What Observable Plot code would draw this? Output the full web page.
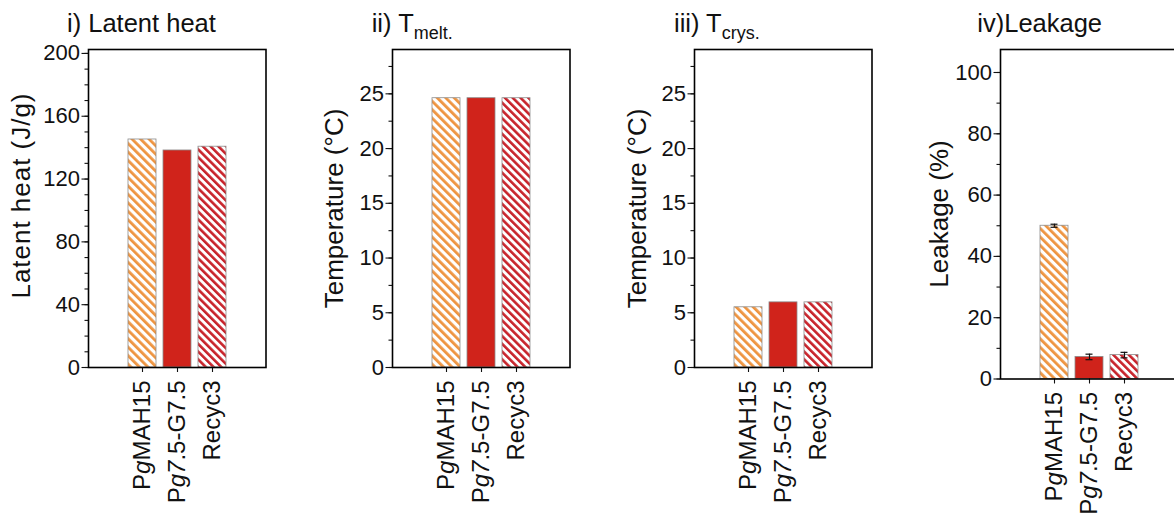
<!DOCTYPE html>
<html><head><meta charset="utf-8">
<script src="https://cdn.jsdelivr.net/npm/d3@7"></script>
<script src="https://cdn.jsdelivr.net/npm/@observablehq/plot@0.6"></script>
<style>
html,body{margin:0;padding:0;background:#fff;overflow:hidden;width:1174px;height:525px}
#wrap{position:relative;width:1174px;height:525px;overflow:hidden;font-family:"Liberation Sans",Arial,sans-serif}
#wrap svg{position:absolute;top:0}
</style></head><body>
<svg width="0" height="0" style="position:absolute">
  <defs>
    <pattern id="hatchOrange" patternUnits="userSpaceOnUse" width="6" height="6" patternTransform="rotate(-45)">
      <rect width="6" height="6" fill="#ffffff"/>
      <rect x="0" y="0" width="2.8" height="6" fill="#ee9440"/>
    </pattern>
    <pattern id="hatchRed" patternUnits="userSpaceOnUse" width="5.5" height="5.5" patternTransform="rotate(-45)">
      <rect width="5.5" height="5.5" fill="#ffffff"/>
      <rect x="0" y="0" width="2.6" height="5.5" fill="#c8232b"/>
    </pattern>
  </defs>
</svg>
<div id="wrap"></div>
<script>
// ---- data ----
const samples = ["PgMAH15", "Pg7.5-G7.5", "Recyc3"];
const italicParts = ["g", "g7", null];
const latentHeat = [145.2, 138.2, 140.6];
const tMelt = [24.6, 24.6, 24.6];
const tCrys = [5.5, 5.95, 5.95];
const leakage = [50.0, 7.2, 7.8];
const leakageErr = [0.5, 0.9, 0.9];
const titles = ["i) Latent heat", "ii) T", "iii) T", "iv)Leakage"];
const titleSubs = [null, "melt.", "crys.", null];
const yLabels = ["Latent heat (J/g)", "Temperature (°C)", "Temperature (°C)", "Leakage (%)"];
const majorTicks = [[0, 40, 80, 120, 160, 200], [0, 5, 10, 15, 20, 25], [0, 5, 10, 15, 20, 25], [0, 20, 40, 60, 80, 100]];
const minorTicks = [d3.range(0, 201, 10), d3.range(0, 28, 2.5), d3.range(0, 28, 2.5), d3.range(0, 101, 10)];
const yDomains = [[0, 202.5], [0, 29.05], [0, 29.05], [0, 107.5]];
const fills = ["url(#hatchOrange)", "#d0231b", "url(#hatchRed)"];

// ---- layout ----
const layout = [
  {frameLeft: 88, bottom: 367, titleX: 67, labelX: 30, labelY: 196, labelLen: 205},
  {frameLeft: 391.7, bottom: 367, titleX: 371.7, labelX: 343, labelY: 208.5, labelLen: null},
  {frameLeft: 694.3, bottom: 367, titleX: 674, labelX: 645.6, labelY: 208.5, labelLen: null},
  {frameLeft: 1000, bottom: 378.5, titleX: 977.3, labelX: 948, labelY: 214, labelLen: null}
];
const frameW = 177.5, mL = 80, mR = 12, H = 525, mTop = 49;
const series = [latentHeat, tMelt, tCrys, leakage];
const errors = [null, null, null, leakageErr];
const wrap = document.getElementById("wrap");
const ns = "http://www.w3.org/2000/svg";
const FONT = '"Liberation Sans", Arial, sans-serif';

series.forEach((vals, i) => {
  const p = layout[i];
  const rows = samples.map((s, j) => ({sample: s, value: vals[j], fill: fills[j], err: errors[i] ? errors[i][j] : 0}));
  const marks = [
    Plot.barY(rows, {x: "sample", y: "value", fill: "fill", stroke: "#8c8c8c", strokeWidth: 0.8}),
    Plot.axisY({ticks: minorTicks[i], tickSize: 3.5, tickFormat: () => "", label: null, strokeWidth: 1.1}),
    Plot.axisY({ticks: majorTicks[i], tickSize: 6.5, tickPadding: 2, fontSize: 22, label: null, strokeWidth: 1.1}),
    Plot.axisX({tickRotate: -90, tickSize: 5, tickPadding: 8, fontSize: 24, label: null, strokeWidth: 1.1}),
    Plot.frame({stroke: "#000", strokeWidth: 1.6})
  ];
  if (errors[i]) {
    marks.splice(1, 0,
      Plot.ruleX(rows, {x: "sample", y1: d => d.value - d.err, y2: d => d.value + d.err, stroke: "#111", strokeWidth: 1.2}),
      Plot.tickY(rows, {x: "sample", y: d => d.value - d.err, stroke: "#111", strokeWidth: 1.2, insetLeft: 10.5, insetRight: 10.5}),
      Plot.tickY(rows, {x: "sample", y: d => d.value + d.err, stroke: "#111", strokeWidth: 1.2, insetLeft: 10.5, insetRight: 10.5})
    );
  }
  const svg = Plot.plot({
    width: mL + frameW + mR,
    height: H,
    marginLeft: mL, marginRight: mR, marginTop: mTop, marginBottom: H - p.bottom,
    x: {type: "band", domain: samples, paddingInner: 0.19, paddingOuter: 1.08, axis: null},
    y: {domain: yDomains[i], axis: null},
    color: {type: "identity"},
    style: {fontFamily: FONT, background: "transparent", overflow: "visible", color: "#111"},
    marks
  });
  svg.style.left = (p.frameLeft - mL) + "px";
  // italic parts of sample names
  svg.querySelectorAll('g[aria-label="x-axis tick label"] text').forEach(t => {
    const s = t.textContent;
    const j = samples.indexOf(s);
    const it = j >= 0 ? italicParts[j] : null;
    if (!it) return;
    const k = s.indexOf(it);
    t.textContent = "";
    [[s.slice(0, k), false], [it, true], [s.slice(k + it.length), false]].forEach(([txt, ital]) => {
      if (!txt) return;
      const ts = document.createElementNS(ns, "tspan");
      ts.textContent = txt;
      if (ital) ts.setAttribute("font-style", "italic");
      t.appendChild(ts);
    });
  });
  wrap.appendChild(svg);
});

// titles and y-axis labels
const ov = d3.create("svg").attr("width", 1174).attr("height", H).style("left", "0px")
  .attr("font-family", FONT).attr("fill", "#111");
layout.forEach((p, i) => {
  const t = ov.append("text").attr("x", p.titleX).attr("y", 32).attr("font-size", 25.5).text(titles[i]);
  if (titleSubs[i]) t.append("tspan").attr("font-size", 18).attr("dy", 6.5).text(titleSubs[i]);
  const lab = ov.append("text").attr("transform", `translate(${p.labelX},${p.labelY}) rotate(-90)`)
    .attr("text-anchor", "middle").attr("font-size", 26).text(yLabels[i]);
  if (p.labelLen) lab.attr("textLength", p.labelLen).attr("lengthAdjust", "spacing");
});
wrap.appendChild(ov.node());
</script>
</body></html>
